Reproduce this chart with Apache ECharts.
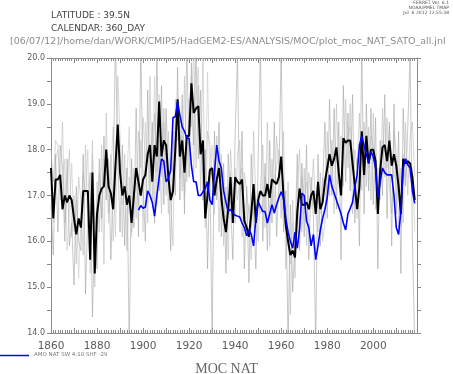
<!DOCTYPE html>
<html><head><meta charset="utf-8">
<script src="https://cdn.jsdelivr.net/npm/echarts@6/dist/echarts.min.js"></script>
<style>html,body{margin:0;padding:0;background:#fff}#c{width:453px;height:374px}</style>
</head><body><div id="c"></div>
<script>
const startYear = 1860;
const blueStartYear = 1898;
const xTickLabels = [1860, 1880, 1900, 1920, 1940, 1960, 1980, 2000];
const yTickLabels = [14, 15, 16, 17, 18, 19, 20];

// Thick black line (ensemble mean), 1860-2018
const meanMoc = [
17.6,16.5,17.35,17.35,17.45,16.7,17.0,16.85,17.0,16.9,
16.5,16.15,16.5,16.3,17.1,17.1,17.1,15.6,17.5,15.3,
16.6,17.0,17.15,17.2,18.0,17.2,17.05,16.7,17.65,18.55,
17.5,17.0,17.2,16.8,17.0,16.4,17.0,17.6,17.3,17.0,
17.35,17.45,17.9,18.1,17.3,18.1,17.85,19.05,17.85,18.2,
18.1,17.4,16.9,17.1,18.0,19.1,17.85,18.2,17.5,18.3,
18.3,19.45,18.8,18.9,18.95,17.9,18.2,16.5,17.0,17.55,
17.6,17.0,17.35,17.6,16.95,16.5,16.2,16.7,17.4,16.4,
17.4,17.3,17.25,17.35,16.45,16.3,16.1,16.6,17.25,16.4,
16.9,17.1,17.0,17.0,17.25,16.95,17.35,17.3,17.25,17.4,
17.85,17.0,16.35,16.0,15.7,15.8,15.65,16.65,17.15,16.8,
16.8,16.85,16.7,17.0,17.1,16.6,17.3,16.7,16.85,17.3,
17.6,17.9,17.65,17.8,18.05,17.5,17.0,18.25,18.15,18.2,
18.2,17.7,17.2,16.7,17.2,18.4,17.45,18.3,17.7,18.0,
18.0,17.75,16.6,17.55,18.05,18.1,17.75,18.2,17.65,17.9,
17.65,17.2,16.6,17.8,17.7,17.75,17.7,17.4,16.9
];

// Blue line: AMO NAT SW 4:10 SHF -29, 1898-2018
const amoNat = [
16.68,16.78,16.72,
16.75,17.1,17.0,16.85,16.55,17.0,17.4,17.8,17.75,17.3,
17.37,17.55,18.7,18.72,19.05,18.75,18.5,18.4,18.25,18.25,
17.65,17.3,17.3,17.0,17.0,17.08,17.15,17.3,16.9,16.8,
17.5,18.1,17.75,17.6,17.1,16.85,16.65,16.7,16.62,16.57,
16.55,16.53,16.4,16.3,16.12,16.25,16.15,15.9,16.5,16.87,
16.75,16.65,16.65,16.4,16.6,16.8,16.62,16.8,16.95,17.08,
16.95,16.5,16.2,16.0,15.85,16.2,15.85,16.28,17.05,17.0,
16.45,16.3,15.9,16.15,15.6,15.9,16.25,16.5,16.7,16.95,
17.45,17.2,17.05,16.9,16.75,16.6,16.4,16.25,16.6,16.72,
16.85,17.2,17.45,18.1,18.3,18.1,17.9,17.7,17.95,17.85,
17.6,16.95,17.3,17.6,17.5,17.45,17.45,17.45,17.0,16.3,
16.15,16.65,17.6,17.8,17.67,17.6,17.1,16.83
];

// Thin grey lines: individual members, 1860-2018
const member1 = [
16.8,15.7,17.9,16.2,18.1,17.6,16.0,17.8,15.9,16.4,
15.05,17.2,16.0,15.8,17.9,14.85,16.6,17.5,14.35,16.2,
15.4,17.8,16.5,18.3,16.9,17.8,15.6,17.3,20.4,17.9,
16.2,18.1,15.9,17.6,13.6,17.8,16.3,18.9,16.1,20.3,
17.2,16.0,19.3,17.0,18.6,16.4,20.2,17.1,19.4,16.8,
18.9,17.3,15.8,18.4,17.0,19.8,16.9,19.2,16.6,20.5,
17.4,19.9,18.1,20.2,17.8,19.3,16.9,18.0,15.4,17.6,
13.8,18.4,16.9,18.6,16.1,17.7,15.3,17.9,16.8,15.6,
18.3,20.1,16.5,18.4,15.4,17.2,15.1,17.9,16.6,15.4,
17.8,20.3,16.0,17.7,15.8,18.2,16.4,18.6,16.1,17.3,
20.2,16.2,17.1,13.7,16.8,14.9,16.0,17.9,15.8,17.7,
16.1,18.1,15.6,17.4,16.5,13.8,17.9,15.9,17.2,18.6,
16.5,19.1,17.0,18.9,16.7,18.6,15.6,19.4,17.3,18.8,
17.1,19.2,16.4,17.8,15.9,20.3,16.6,19.0,17.1,18.9,
16.8,18.7,15.4,18.2,17.0,19.2,16.5,18.6,15.9,19.0,
16.6,18.4,15.3,18.9,17.2,18.5,20.1,16.0,13.8
];
const member2 = [
18.0,17.3,18.2,18.1,17.2,18.6,16.4,17.1,18.0,16.1,
17.0,15.5,17.4,16.9,15.7,18.1,16.4,15.9,18.2,15.0,
17.3,16.2,18.1,15.5,18.8,16.6,17.9,16.0,17.2,19.6,
18.3,16.1,17.9,15.8,17.4,16.2,17.6,16.5,18.4,17.6,
18.7,17.8,16.4,19.6,16.9,18.8,17.5,18.2,16.6,18.9,
17.0,18.4,16.8,15.9,19.1,18.2,18.7,17.1,19.6,17.3,
19.1,18.5,20.3,17.6,19.4,17.1,20.2,16.3,18.4,18.1,
17.3,16.6,18.3,16.2,17.9,15.9,17.2,15.6,18.0,17.1,
16.4,17.9,18.2,16.1,17.5,17.1,16.6,15.6,18.4,16.9,
16.0,17.2,18.1,16.3,18.6,15.9,17.8,16.6,18.3,17.6,
16.5,18.4,15.4,17.3,14.4,16.9,15.2,17.1,18.0,16.2,
17.6,15.9,17.5,16.9,17.8,16.6,16.2,17.5,16.0,16.4,
18.4,17.0,18.2,16.6,19.0,17.5,18.3,17.2,19.1,17.6,
19.0,16.6,18.0,17.6,18.8,17.1,18.6,17.2,18.5,16.9,
18.8,16.7,17.6,16.9,18.9,17.4,18.7,17.2,16.6,18.4,
17.9,16.3,17.6,16.4,18.6,17.0,18.3,18.6,17.4
];
const member3 = [
17.2,16.4,17.8,18.0,16.9,17.0,17.8,15.8,16.7,17.7,
16.2,16.9,15.2,16.5,17.5,17.0,18.0,15.3,17.9,16.3,
16.8,17.5,16.2,17.8,17.6,16.4,17.5,18.5,16.1,18.3,
17.7,16.8,17.0,17.4,18.5,16.1,16.9,17.3,16.8,18.2,
16.2,18.6,17.7,18.1,17.4,19.6,16.8,19.2,17.4,18.6,
17.9,16.6,17.8,17.5,17.9,18.6,17.4,18.3,17.0,17.8,
18.5,19.6,17.5,19.1,19.8,18.0,17.5,16.9,19.7,17.2,
18.1,17.5,17.0,17.9,17.3,16.8,16.4,17.2,17.5,16.6,
17.6,16.9,17.3,17.6,16.5,16.2,16.8,16.3,17.0,16.5,
17.1,16.6,16.8,17.4,17.1,16.7,17.2,17.4,17.6,18.0,
17.0,16.5,16.9,15.9,15.5,16.4,15.6,16.6,17.0,17.4,
16.6,17.3,16.9,16.7,17.1,17.0,16.9,16.6,17.4,17.1,
17.8,17.6,17.7,18.0,17.9,17.2,17.0,18.0,18.1,18.3,
18.5,17.9,17.3,16.5,17.6,17.8,17.4,18.2,17.6,18.3,
18.1,17.8,16.9,17.4,18.2,18.0,17.6,18.5,17.8,17.4,
17.7,17.5,16.6,17.9,17.4,17.8,17.4,17.6,16.2
];

function pairs(arr, y0) { return arr.map((v, i) => [y0 + i, v]); }

const chart = echarts.init(document.getElementById('c'), null, { renderer: 'canvas' });
const axisGrey = '#8a8a8a';
const labelGrey = '#5a5a5a';
const xAxisBase = {
  type: 'value', min: 1860, max: 2019, interval: 10,
  axisLine: { show: true, lineStyle: { color: axisGrey, width: 1 } },
  axisTick: { show: true, inside: true, length: 5, lineStyle: { color: axisGrey } },
  minorTick: { show: true, splitNumber: 10, length: 3, lineStyle: { color: axisGrey } },
  splitLine: { show: false }, minorSplitLine: { show: false }
};
const yAxisBase = {
  type: 'value', min: 14, max: 20, interval: 1,
  axisLine: { show: true, lineStyle: { color: axisGrey, width: 1 } },
  axisTick: { show: true, inside: false, length: 4, lineStyle: { color: axisGrey } },
  minorTick: { show: true, splitNumber: 2, length: 4, lineStyle: { color: axisGrey } },
  splitLine: { show: false }, minorSplitLine: { show: false }
};
chart.setOption({
  animation: false,
  backgroundColor: '#fff',
  grid: { left: 51, top: 58, right: 36, bottom: 41, containLabel: false },
  xAxis: [
    Object.assign({}, xAxisBase, { position: 'bottom',
      axisLabel: { show: true, fontSize: 10.5, color: labelGrey, fontFamily: 'DejaVu Sans', margin: 8,
        formatter: v => xTickLabels.includes(v) ? String(v) : '' } }),
    Object.assign({}, xAxisBase, { position: 'top', axisLabel: { show: false } })
  ],
  yAxis: [
    Object.assign({}, yAxisBase, { position: 'left',
      axisLabel: { show: true, fontSize: 8, color: labelGrey, fontFamily: 'DejaVu Sans', margin: 6,
        formatter: v => yTickLabels.includes(v) ? v.toFixed(1) : '' } }),
    Object.assign({}, yAxisBase, { position: 'right', axisLabel: { show: false } })
  ],
  series: [
    { type: 'line', name: 'm3', data: pairs(member3, startYear), symbol: 'none', clip: true,
      lineStyle: { color: '#cfcfcf', width: 0.7 } },
    { type: 'line', name: 'm2', data: pairs(member2, startYear), symbol: 'none', clip: true,
      lineStyle: { color: '#bcbcbc', width: 0.6 } },
    { type: 'line', name: 'm1', data: pairs(member1, startYear), symbol: 'none', clip: true,
      lineStyle: { color: '#a2a2a2', width: 0.6 } },
    { type: 'line', name: 'mean', data: pairs(meanMoc, startYear), symbol: 'none', clip: true,
      lineStyle: { color: '#000', width: 2 } },
    { type: 'line', name: 'AMO NAT SW 4:10 SHF -29', data: pairs(amoNat, blueStartYear), symbol: 'none', clip: true,
      lineStyle: { color: '#0000ff', width: 1.6 } }
  ],
  graphic: [
    { type: 'text', left: 51, top: 11, style: { text: 'LATITUDE : 39.5N', fontSize: 9, fill: '#444', fontFamily: 'DejaVu Sans' } },
    { type: 'text', left: 51, top: 24, style: { text: 'CALENDAR: 360_DAY', fontSize: 9, fill: '#444', fontFamily: 'DejaVu Sans' } },
    { type: 'text', left: 10, top: 37, style: { text: '[06/07/12]/home/dan/WORK/CMIP5/HadGEM2-ES/ANALYSIS/MOC/plot_moc_NAT_SATO_all.jnl', fontSize: 9.5, fill: '#8c8c8c', fontFamily: 'DejaVu Sans' } },
    { type: 'text', right: 4, top: 0, style: { text: 'FERRET Ver. 6.1', fontSize: 4.5, fill: '#555', fontFamily: 'DejaVu Sans' } },
    { type: 'text', right: 4, top: 5, style: { text: 'NOAA/PMEL TMAP', fontSize: 4.5, fill: '#555', fontFamily: 'DejaVu Sans' } },
    { type: 'text', right: 4, top: 10, style: { text: 'Jul  6 2012 12:55:38', fontSize: 4.5, fill: '#555', fontFamily: 'DejaVu Sans' } },
    { type: 'line', shape: { x1: 0, y1: 355.5, x2: 29, y2: 355.5 }, style: { stroke: '#0000ff', lineWidth: 1.5 } },
    { type: 'text', left: 34, top: 352, style: { text: 'AMO NAT SW 4:10 SHF -29', fontSize: 5.5, fill: '#777', fontFamily: 'DejaVu Sans' } },
    { type: 'text', left: 'center', top: 362, style: { text: 'MOC NAT', fontSize: 14, fill: '#666', fontFamily: 'Liberation Serif' } }
  ]
});
</script></body></html>
